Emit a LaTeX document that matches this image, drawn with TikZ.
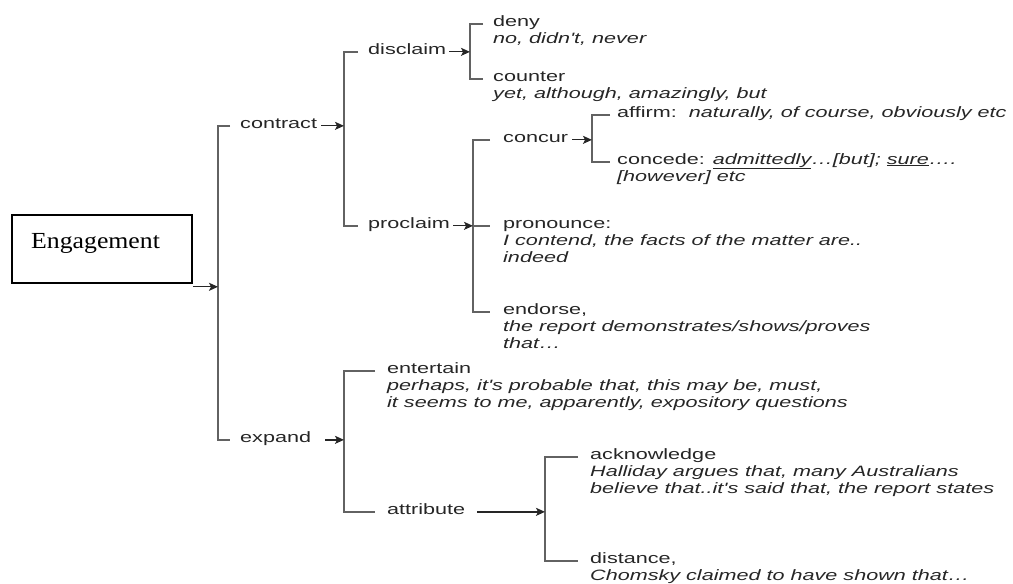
\documentclass[tikz,border=0pt]{standalone}
\usepackage{fontspec}
\usetikzlibrary{arrows.meta,calc}
\newfontfamily\lblfont[FakeStretch=1.44]{Liberation Sans}
\newfontfamily\engfont[FakeStretch=1.12]{Liberation Serif}
\definecolor{lineg}{HTML}{626262}
\definecolor{txt}{HTML}{262626}
\tikzset{
  lbl/.style={font=\lblfont\fontsize{15}{17}\selectfont, text=txt, inner sep=0pt, anchor=base west},
  br/.style={draw=lineg, line width=1.8pt},
  arr/.style={draw=txt, line width=1.3pt, -{Stealth[length=9pt,width=8pt,inset=2pt]}},
  box/.style={draw=black, line width=1.6pt, minimum width=180pt, minimum height=68pt, inner sep=0pt},
}
\newcommand{\ex}[1]{\begin{tabular}[t]{@{}l@{}}#1\end{tabular}}
\begin{document}
\begin{tikzpicture}[x=1pt,y=-1pt]
\useasboundingbox (0,0) rectangle (1013,584);
% vertical bracket positions
\coordinate (v0) at (218,0);
\coordinate (v1) at (344,0);
\coordinate (v2) at (470,0);
\coordinate (v3) at (473,0);
\coordinate (v4) at (592,0);
\coordinate (v5) at (344,0);
\coordinate (v6) at (545,0);
% Engagement box
\node[box] (eng) at (102,249) {};
\node[font=\engfont\fontsize{23}{27}\selectfont, text=black, inner sep=0pt, anchor=base west] (engt) at (31,248) {Engagement};
% level 1
\node[lbl] (contract) at (240,128) {contract};
\node[lbl] (expand) at (240,442) {expand};
% level 2
\node[lbl] (disclaim) at (368,54) {disclaim};
\node[lbl] (proclaim) at (368,228) {proclaim};
\node[lbl] (entertain) at (387,373) {\ex{entertain\\\itshape perhaps, it's probable that, this may be, must,\\\itshape it seems to me, apparently, expository questions}};
\node[lbl] (attribute) at (387,514) {attribute};
% level 3
\node[lbl] (deny) at (493,26) {\ex{deny\\\itshape no, didn't, never}};
\node[lbl] (counter) at (493,81) {\ex{counter\\\itshape yet, although, amazingly, but}};
\node[lbl] (concur) at (503,142) {concur};
\node[lbl] (pronounce) at (503,228) {\ex{pronounce:\\\itshape I contend, the facts of the matter are..\\\itshape indeed}};
\node[lbl] (endorse) at (503,314) {\ex{endorse,\\\itshape the report demonstrates/shows/proves\\\itshape that…}};
\node[lbl] (acknowledge) at (590,459) {\ex{acknowledge\\\itshape Halliday argues that, many Australians\\\itshape believe that..it's said that, the report states}};
\node[lbl] (distance) at (590,563) {\ex{distance,\\\itshape Chomsky claimed to have shown that…}};
% level 4
\node[lbl] (affirm) at (617,117) {affirm:\ \ \textit{naturally, of course, obviously etc}};
\node[lbl] (concede) at (617,164) {\ex{concede: \textit{\underline{admittedly}…[but]; \underline{sure}….}\\\itshape [however] etc}};
% brackets
\draw[br] ([xshift=-10pt]contract.mid west) -- (v0 |- contract.mid west) |- ([xshift=-10pt]expand.mid west);
\draw[br] ([xshift=-10pt]disclaim.mid west) -- (v1 |- disclaim.mid west) |- ([xshift=-10pt]proclaim.mid west);
\draw[br] ([xshift=-10pt]deny.mid west) -- (v2 |- deny.mid west) |- ([xshift=-10pt]counter.mid west);
\draw[br] ([xshift=-13pt]concur.mid west) -- (v3 |- concur.mid west) |- ([xshift=-13pt]endorse.mid west);
\draw[br] (v3 |- pronounce.mid west) -- ([xshift=-13pt]pronounce.mid west);
\draw[br] ([xshift=-7pt]affirm.mid west) -- (v4 |- affirm.mid west) |- ([xshift=-7pt]concede.mid west);
\draw[br] ([xshift=-12pt]entertain.mid west) -- (v5 |- entertain.mid west) |- ([xshift=-12pt]attribute.mid west);
\draw[br] ([xshift=-12pt]acknowledge.mid west) -- (v6 |- acknowledge.mid west) |- ([xshift=-12pt]distance.mid west);
% arrows
\coordinate (ea) at ([yshift=-3pt]eng.south east);
\draw[arr] (ea) -- (v0 |- ea);
\draw[arr] ([xshift=4pt]contract.mid east) -- (v1 |- contract.mid east);
\draw[arr] ([xshift=3pt]disclaim.mid east) -- (v2 |- disclaim.mid east);
\draw[arr] ([xshift=3pt]proclaim.mid east) -- (v3 |- proclaim.mid east);
\draw[arr] ([xshift=4pt]concur.mid east) -- (v4 |- concur.mid east);
\draw[arr] ([xshift=14pt]expand.mid east) -- (v5 |- expand.mid east);
\draw[arr] ([xshift=12pt]attribute.mid east) -- (v6 |- attribute.mid east);
\end{tikzpicture}
\end{document}
